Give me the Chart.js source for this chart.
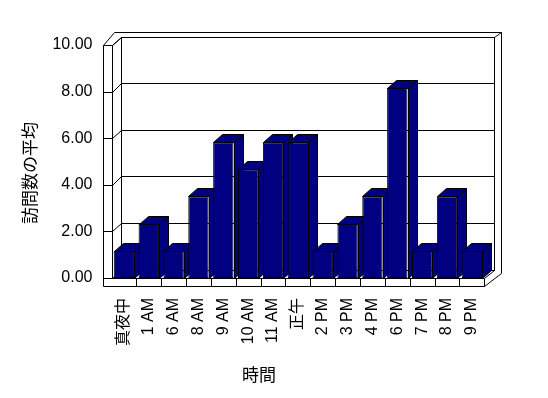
<!DOCTYPE html>
<html>
<head>
<meta charset="utf-8">
<script src="https://cdn.jsdelivr.net/npm/chart.js@4/dist/chart.umd.min.js"></script>
<style>
  html, body { margin: 0; padding: 0; background: #fff; }
  canvas { display: block; }
</style>
</head>
<body>
<canvas id="chart" width="548" height="398"></canvas>
<script>
// data
const hours = ['真夜中', '1 AM', '6 AM', '8 AM', '9 AM', '10 AM', '11 AM', '正午',
               '2 PM', '3 PM', '4 PM', '6 PM', '7 PM', '8 PM', '9 PM'];
const avgVisits = [1.17, 2.33, 1.17, 3.5, 5.83, 4.67, 5.83, 5.83,
                   1.17, 2.33, 3.5, 8.17, 1.17, 3.5, 1.17];
const yTickValues = [0, 2, 4, 6, 8, 10];
const yTitle = '訪問数の平均';
const xTitle = '時間';

const NAVY = '#000080';
const WALL = { dx: 9.5, dy: -8.3 };   // depth of back wall
const BAR = { dx: 9, dy: -8 };        // depth of each column
const WALL_X = 103;                   // outer edge of left wall
const FLOOR_Y = 286;                  // outer edge of floor

const px = v => Math.round(v) + 0.5;

function poly(ctx, pts, fill) {
    ctx.beginPath();
    ctx.moveTo(px(pts[0][0]), px(pts[0][1]));
    for (let i = 1; i < pts.length; i++) {
        ctx.lineTo(px(pts[i][0]), px(pts[i][1]));
    }
    ctx.closePath();
    if (fill) {
        ctx.fillStyle = fill;
        ctx.fill();
    }
    ctx.stroke();
}

function line(ctx, x1, y1, x2, y2) {
    ctx.beginPath();
    ctx.moveTo(px(x1), px(y1));
    ctx.lineTo(px(x2), px(y2));
    ctx.stroke();
}

const box3d = {
    id: 'box3d',
    beforeDatasetsDraw(chart) {
        const ctx = chart.ctx;
        const { left: L, right: R, top: T, bottom: B } = chart.chartArea;
        const yScale = chart.scales.y;
        const outerR = R + 16.4;

        ctx.save();
        ctx.lineWidth = 1;
        ctx.strokeStyle = '#000';

        // outer shell of walls + floor
        poly(ctx, [[WALL_X, T], [L + 2.5, T - 13.5], [outerR, T - 13.5],
                   [outerR, B - 5.3], [R, FLOOR_Y], [WALL_X, FLOOR_Y]], '#fff');

        // back wall
        poly(ctx, [[L + WALL.dx, T + WALL.dy], [R + WALL.dx, T + WALL.dy],
                   [R + WALL.dx, B + WALL.dy], [L + WALL.dx, B + WALL.dy]], '#fff');
        line(ctx, R + WALL.dx, T + WALL.dy, outerR, T - 13.5);

        // left wall front face and floor front face
        line(ctx, L, T, L, B);
        line(ctx, WALL_X, T, L, T);
        line(ctx, L, T, L + WALL.dx, T + WALL.dy);
        line(ctx, L, B, R, B);
        line(ctx, R, B, R, FLOOR_Y);
        line(ctx, R, B, R + WALL.dx, B + WALL.dy);

        // gridlines on the back wall, ticks across the side wall
        yTickValues.forEach(v => {
            const yy = yScale.getPixelForValue(v);
            line(ctx, L + WALL.dx, yy + WALL.dy, R + WALL.dx, yy + WALL.dy);
            line(ctx, WALL_X, yy, L, yy);
            line(ctx, L, yy, L + WALL.dx, yy + WALL.dy);
        });

        // category ticks on the floor edge
        const step = (R - L) / hours.length;
        for (let i = 1; i < hours.length; i++) {
            line(ctx, L + i * step, B, L + i * step, FLOOR_Y);
        }

        // top and side faces of the columns, left to right
        const meta = chart.getDatasetMeta(0);
        meta.data.forEach(bar => {
            const { x, y, base, width } = bar.getProps(['x', 'y', 'base', 'width'], true);
            const x0 = x - width / 2;
            const x1 = x + width / 2;
            poly(ctx, [[x1, y], [x1 + BAR.dx, y + BAR.dy],
                       [x1 + BAR.dx, base + BAR.dy], [x1, base]], NAVY);
            poly(ctx, [[x0, y], [x1, y], [x1 + BAR.dx, y + BAR.dy],
                       [x0 + BAR.dx, y + BAR.dy]], NAVY);
        });
        ctx.restore();
    },
    afterDraw(chart) {
        const ctx = chart.ctx;
        ctx.save();
        ctx.fillStyle = '#000';
        ctx.font = '17px "Noto Sans CJK JP"';
        ctx.textAlign = 'center';
        ctx.textBaseline = 'middle';
        ctx.fillText(xTitle, 259, 375);
        ctx.translate(30, 173);
        ctx.rotate(-Math.PI / 2);
        ctx.fillText(yTitle, 0, 0);
        ctx.restore();
    }
};

const tickFont = { family: '"Liberation Sans", "Noto Sans CJK JP"', size: 16 };

new Chart(document.getElementById('chart'), {
    type: 'bar',
    data: {
        labels: hours,
        datasets: [{
            data: avgVisits,
            backgroundColor: NAVY,
            borderColor: '#000',
            borderWidth: 1,
            borderSkipped: false,
            barPercentage: 0.82,
            categoryPercentage: 1.0
        }]
    },
    options: {
        responsive: false,
        animation: false,
        devicePixelRatio: 1,
        layout: { padding: { top: 45, right: 63.7, left: 0, bottom: 0 } },
        plugins: {
            legend: { display: false },
            tooltip: { enabled: false }
        },
        scales: {
            x: {
                grid: { display: false, drawTicks: false },
                border: { display: false },
                ticks: {
                    color: '#000',
                    font: tickFont,
                    minRotation: 90,
                    maxRotation: 90,
                    autoSkip: false,
                    padding: 20
                },
                afterFit: s => { s.height = 398 - 278; }
            },
            y: {
                min: 0,
                max: 10,
                grid: { display: false, drawTicks: false },
                border: { display: false },
                ticks: {
                    color: '#000',
                    font: tickFont,
                    stepSize: 2,
                    padding: 19,
                    callback: v => v.toFixed(2)
                },
                afterFit: s => { s.width = 111.5; }
            }
        }
    },
    plugins: [box3d]
});
</script>
</body>
</html>
